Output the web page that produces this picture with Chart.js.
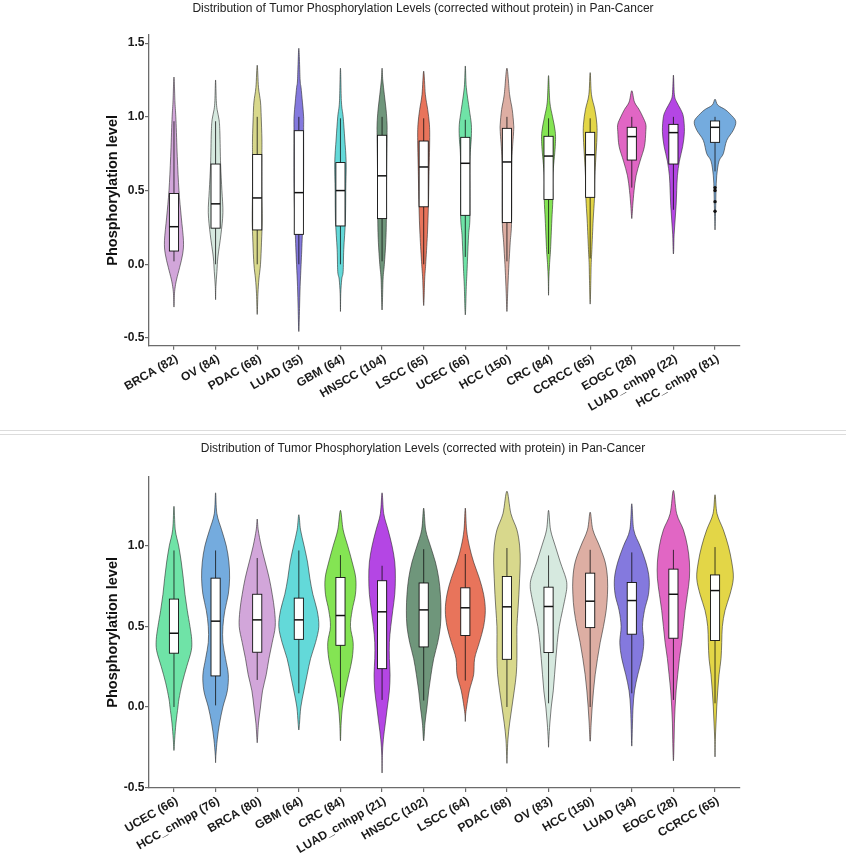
<!DOCTYPE html>
<html>
<head>
<meta charset="utf-8">
<script src="https://cdn.jsdelivr.net/npm/chart.js@4.4.1/dist/chart.umd.min.js"></script>
<style>
  html, body { margin: 0; padding: 0; background: #fff; }
  #top { height: 430px; border-bottom: 1px solid #dcdcdc; }
  #bot { margin-top: 3px; height: 420px; border-top: 1px solid #dcdcdc; }
  canvas { display: block; }
</style>
</head>
<body>
<div id="top"><canvas id="chartTop" width="846" height="430"></canvas></div>
<div id="bot"><canvas id="chartBot" width="846" height="420"></canvas></div>
<script>
// ---- top chart: corrected without protein ----
var labelsTop = ['BRCA (82)', 'OV (84)', 'PDAC (68)', 'LUAD (35)', 'GBM (64)', 'HNSCC (104)', 'LSCC (65)',
  'UCEC (66)', 'HCC (150)', 'CRC (84)', 'CCRCC (65)', 'EOGC (28)', 'LUAD_cnhpp (22)', 'HCC_cnhpp (81)'];
var colorsTop = ['#D2A6DA', '#D6E9DF', '#D8D88C', '#8479DE', '#63D9D9', '#6F967B', '#E8745B',
  '#6FE3A7', '#DDAEA3', '#84E453', '#E3D647', '#E166C4', '#B446E4', '#74ABDE'];
var q1Top  = [0.09, 0.245, 0.233, 0.203, 0.26, 0.31, 0.39, 0.332, 0.283, 0.44, 0.454, 0.707, 0.68, 0.827];
var medTop = [0.255, 0.41, 0.45, 0.486, 0.50, 0.60, 0.66, 0.685, 0.694, 0.734, 0.743, 0.866, 0.893, 0.929];
var q3Top  = [0.48, 0.68, 0.745, 0.906, 0.69, 0.875, 0.836, 0.861, 0.922, 0.868, 0.895, 0.929, 0.949, 0.972];
var loTop  = [0.02, 0.0, 0.0, 0.0, 0.0, 0.02, 0.0, 0.05, 0.02, 0.07, 0.04, 0.52, 0.37, 0.63];
var hiTop  = [0.97, 0.97, 1.0, 1.0, 0.99, 1.0, 0.99, 0.98, 1.0, 0.99, 0.99, 1.0, 1.0, 1.0];
var outliersTop = [[], [], [], [], [], [], [], [], [], [], [], [], [], [0.52, 0.50, 0.425, 0.36]];
// violin density: [level, density] pairs from lower tail to upper tail
var densityTop = [
  [[-0.29,0],[-0.2,0.5],[-0.15,1.3],[-0.1,2.7],[-0.02,5.7],[0.07,8.7],[0.16,9.5],[0.32,7.3],[0.5,5],[0.73,3.3],[0.98,2],[1.1,1],[1.27,0]],
  [[-0.24,0],[-0.15,0.3],[-0.05,1.3],[0.05,2.3],[0.2,5.3],[0.35,7.3],[0.5,6.3],[0.68,5],[0.89,4.3],[0.98,3.5],[1.05,1.5],[1.11,0.7],[1.25,0]],
  [[-0.34,0],[-0.2,0.7],[-0.1,1.7],[0.0,3.3],[0.15,4.3],[0.3,5],[0.5,4.7],[0.745,4.7],[0.85,4.7],[1.0,4],[1.1,3.3],[1.2,1.3],[1.35,0]],
  [[-0.456,0],[-0.3,0.7],[-0.15,1.3],[0.0,2.3],[0.2,3.5],[0.5,4.7],[0.9,4.8],[1.0,4.8],[1.1,3.6],[1.2,2.2],[1.25,1.3],[1.465,0]],
  [[-0.32,0],[-0.2,0.3],[-0.1,1.3],[-0.05,2.7],[0.1,3.3],[0.3,5],[0.5,5.3],[0.69,5.7],[0.85,4.3],[1.0,2.7],[1.1,1],[1.33,0]],
  [[-0.31,0],[-0.1,1],[0.0,2.3],[0.15,3.7],[0.3,4.3],[0.6,4.5],[0.875,5],[0.95,5],[1.05,4],[1.15,2.3],[1.25,0.7],[1.33,0]],
  [[-0.28,0],[-0.1,1],[0.0,2],[0.2,3.7],[0.39,4.7],[0.6,5.3],[0.84,6],[0.95,5.7],[1.05,4],[1.15,1.7],[1.31,0]],
  [[-0.343,0],[-0.15,1],[-0.05,1.7],[0.05,2.3],[0.2,3.3],[0.33,4.7],[0.7,4.7],[0.86,6],[0.95,6],[1.05,4],[1.2,1],[1.345,0]],
  [[-0.32,0],[-0.2,0.7],[-0.1,1.3],[0.0,2],[0.15,3.3],[0.3,4.7],[0.7,5],[0.9,6.7],[0.95,6.7],[1.05,5.3],[1.15,2.7],[1.33,0]],
  [[-0.21,0],[-0.1,0.3],[0.0,1],[0.1,2],[0.3,3.3],[0.44,4.3],[0.6,4.3],[0.8,6.7],[0.9,6.7],[1.0,4],[1.1,1.3],[1.28,0]],
  [[-0.27,0],[-0.1,0.7],[0.0,1],[0.1,1.7],[0.3,3],[0.45,4.3],[0.6,4.7],[0.85,6.7],[0.95,6.7],[1.05,4.7],[1.15,1.3],[1.30,0]],
  [[0.31,0],[0.33,0.3],[0.4,1],[0.5,2.3],[0.6,4.3],[0.7,8.3],[0.8,12.7],[0.9,14],[0.95,14],[1.0,11],[1.05,7.3],[1.1,2.7],[1.177,0]],
  [[0.07,0],[0.1,0.3],[0.2,0.7],[0.3,1.7],[0.4,2.7],[0.5,3.3],[0.6,4],[0.7,6],[0.8,9.3],[0.9,11],[1.0,10],[1.05,7.3],[1.1,3.3],[1.15,1],[1.283,0]],
  [[0.233,0],[0.3,0.3],[0.4,0.7],[0.5,1],[0.6,1.7],[0.7,4],[0.75,8.3],[0.84,11.7],[0.91,18.3],[0.97,20.7],[1.02,15],[1.05,10],[1.08,2.7],[1.12,0]]
];
var yTicksTop = [-0.5, 0.0, 0.5, 1.0, 1.5];

// ---- bottom chart: corrected with protein ----
var labelsBot = ['UCEC (66)', 'HCC_cnhpp (76)', 'BRCA (80)', 'GBM (64)', 'CRC (84)', 'LUAD_cnhpp (21)', 'HNSCC (102)',
  'LSCC (64)', 'PDAC (68)', 'OV (83)', 'HCC (150)', 'LUAD (34)', 'EOGC (28)', 'CCRCC (65)'];
var colorsBot = ['#6FE3A7', '#74ABDE', '#D2A6DA', '#63D9D9', '#84E453', '#B446E4', '#6F967B',
  '#E8745B', '#D8D88C', '#D6E9DF', '#DDAEA3', '#8479DE', '#E166C4', '#E3D647'];
var q1Bot  = [0.334, 0.193, 0.34, 0.42, 0.383, 0.238, 0.373, 0.444, 0.296, 0.338, 0.493, 0.452, 0.427, 0.413];
var medBot = [0.458, 0.533, 0.541, 0.541, 0.568, 0.591, 0.603, 0.616, 0.622, 0.624, 0.657, 0.661, 0.70, 0.723];
var q3Bot  = [0.67, 0.80, 0.70, 0.676, 0.804, 0.784, 0.77, 0.74, 0.81, 0.744, 0.831, 0.773, 0.856, 0.82];
var loBot  = [0.0, 0.01, 0.168, 0.085, 0.06, 0.044, 0.04, 0.164, 0.0, 0.023, 0.0, 0.085, 0.044, 0.023];
var hiBot  = [0.972, 0.972, 0.925, 0.972, 0.943, 0.877, 0.98, 0.95, 0.987, 0.941, 0.976, 0.96, 0.976, 0.993];
var outliersBot = [[], [], [], [], [], [], [], [], [], [], [], [], [], []];
var densityBot = [
  [[-0.27,0],[-0.2,0.7],[-0.1,2],[0.0,4],[0.05,5],[0.15,8.3],[0.25,12.7],[0.35,17.3],[0.42,17.7],[0.5,16],[0.6,13.3],[0.7,11],[0.8,9.3],[0.9,7.3],[1.0,4.7],[1.1,1.3],[1.246,0]],
  [[-0.346,0],[-0.3,0.3],[-0.2,1.7],[-0.1,4],[0.0,7.3],[0.1,11.7],[0.2,12.7],[0.3,10],[0.4,7.3],[0.5,7.3],[0.6,9.3],[0.7,12.7],[0.8,14],[0.9,13.3],[1.0,10.7],[1.1,6],[1.2,1.3],[1.33,0]],
  [[-0.222,0],[-0.2,0.3],[-0.1,1.3],[0.0,3.3],[0.1,5.3],[0.2,9],[0.3,11.7],[0.4,15],[0.5,18],[0.6,17.3],[0.7,15],[0.8,12],[0.9,8],[1.0,4],[1.1,1],[1.167,0]],
  [[-0.143,0],[-0.1,0.7],[0.0,2],[0.1,5],[0.2,8.3],[0.3,11.7],[0.4,16.7],[0.5,20],[0.6,18.3],[0.7,14],[0.8,11],[0.9,8.7],[1.0,5.3],[1.1,1.7],[1.194,0]],
  [[-0.21,0],[-0.1,0.7],[0.0,2],[0.1,4.7],[0.2,8.3],[0.3,11.7],[0.4,12.7],[0.5,10],[0.6,11.7],[0.7,15],[0.8,15.3],[0.9,11.7],[1.0,7.3],[1.1,2.7],[1.221,0]],
  [[-0.41,0],[-0.3,0.3],[-0.2,1.3],[-0.1,3.3],[0.0,5.3],[0.1,7.3],[0.2,8],[0.3,7.3],[0.4,7.3],[0.5,8.7],[0.6,10.7],[0.7,12.7],[0.8,13.3],[0.9,12.7],[1.0,10],[1.1,6],[1.2,1.7],[1.33,0]],
  [[-0.21,0],[-0.1,1.3],[0.0,3.3],[0.1,5],[0.2,7.3],[0.3,10],[0.4,14],[0.5,16.7],[0.6,17.3],[0.7,16.7],[0.8,15],[0.9,11.7],[1.0,6.7],[1.1,2],[1.235,0]],
  [[-0.09,0],[-0.05,0.3],[0.0,1.3],[0.1,4],[0.2,8.3],[0.3,9.3],[0.4,14],[0.5,18.3],[0.6,20],[0.7,18.3],[0.8,14],[0.9,8.3],[1.0,4],[1.1,1.3],[1.235,0]],
  [[-0.35,0],[-0.3,0.3],[-0.2,1],[-0.1,2.7],[0.0,5],[0.1,7.3],[0.2,9.3],[0.3,10],[0.4,10],[0.5,10],[0.6,11],[0.7,12],[0.8,12.7],[0.9,13.3],[1.0,12.7],[1.1,10],[1.2,4],[1.34,0]],
  [[-0.25,0],[-0.2,0.3],[-0.1,1.3],[0.0,2.7],[0.1,4.7],[0.2,6],[0.3,7.3],[0.4,8.7],[0.5,10.7],[0.6,14],[0.7,17.3],[0.75,18.3],[0.8,17.3],[0.9,11.7],[1.0,6.7],[1.1,2],[1.221,0]],
  [[-0.21,0],[-0.2,0.3],[-0.1,1],[0.0,2],[0.1,3.3],[0.2,5],[0.3,7.3],[0.4,10],[0.5,13.3],[0.6,16],[0.7,17.3],[0.8,17.3],[0.9,15],[1.0,9.3],[1.1,2.7],[1.21,0]],
  [[-0.243,0],[-0.1,0.7],[0.0,1.3],[0.1,2.7],[0.2,6],[0.3,10],[0.4,12],[0.5,10.7],[0.6,12.7],[0.7,16.7],[0.8,17.3],[0.9,14],[1.0,8.3],[1.1,2],[1.262,0]],
  [[-0.334,0],[-0.3,0.3],[-0.2,0.7],[-0.1,1],[0.0,1.7],[0.1,2.7],[0.2,4.3],[0.3,6],[0.4,8.3],[0.5,10],[0.6,11.7],[0.7,14],[0.8,16],[0.9,16],[1.0,14],[1.1,10],[1.2,3.3],[1.345,0]],
  [[-0.31,0],[-0.2,0.3],[-0.1,1],[0.0,1.7],[0.1,2.7],[0.2,4],[0.3,6],[0.4,6.7],[0.5,7.3],[0.6,10],[0.7,15],[0.8,18.3],[0.9,16.7],[1.0,13.3],[1.1,8.3],[1.2,2],[1.318,0]]
];
var yTicksBot = [-0.5, 0.0, 0.5, 1.0];

// density units -> fraction of one category on the x scale
var DENSITY_UNIT = 1 / 41.6;
var BOX_HALF = 0.11;

Chart.defaults.font.family = "'Liberation Sans', Arial, sans-serif";
Chart.defaults.color = '#1a1a1a';

// closed Catmull-Rom outline through the violin knots
function closedSpline(ctx, P) {
  var n = P.length;
  ctx.moveTo(P[0][0], P[0][1]);
  for (var j = 0; j < n; j++) {
    var p0 = P[(j - 1 + n) % n], p1 = P[j], p2 = P[(j + 1) % n], p3 = P[(j + 2) % n];
    ctx.bezierCurveTo(
      p1[0] + (p2[0] - p0[0]) / 6, p1[1] + (p2[1] - p0[1]) / 6,
      p2[0] - (p3[0] - p1[0]) / 6, p2[1] - (p3[1] - p1[1]) / 6,
      p2[0], p2[1]);
  }
}

function violinLayer(set) {
  return {
    id: 'violinLayer',
    beforeDatasetsDraw: function(chart) {
      var ctx = chart.ctx, xs = chart.scales.x, ys = chart.scales.y;
      ctx.save();
      set.labels.forEach(function(lab, i) {
        var dens = set.density[i];
        var right = dens.map(function(p) { return [xs.getPixelForValue(i + p[1] * DENSITY_UNIT), ys.getPixelForValue(p[0])]; });
        var left = dens.slice().reverse().map(function(p) { return [xs.getPixelForValue(i - p[1] * DENSITY_UNIT), ys.getPixelForValue(p[0])]; });
        var ring = right.concat(left.slice(1, -1));
        ctx.beginPath();
        closedSpline(ctx, ring);
        ctx.closePath();
        ctx.fillStyle = set.colors[i];
        ctx.fill();
        ctx.lineWidth = 0.6;
        ctx.strokeStyle = '#2a2a2a';
        ctx.stroke();

        var cx = xs.getPixelForValue(i);
        // whiskers
        ctx.beginPath();
        ctx.moveTo(cx, ys.getPixelForValue(set.lo[i]));
        ctx.lineTo(cx, ys.getPixelForValue(set.q1[i]));
        ctx.moveTo(cx, ys.getPixelForValue(set.q3[i]));
        ctx.lineTo(cx, ys.getPixelForValue(set.hi[i]));
        ctx.lineWidth = 0.8;
        ctx.strokeStyle = '#111';
        ctx.stroke();
        // box
        var bl = xs.getPixelForValue(i - BOX_HALF), br = xs.getPixelForValue(i + BOX_HALF);
        var bt = ys.getPixelForValue(set.q3[i]), bb = ys.getPixelForValue(set.q1[i]);
        ctx.fillStyle = '#fff';
        ctx.fillRect(bl, bt, br - bl, bb - bt);
        ctx.lineWidth = 0.9;
        ctx.strokeStyle = '#111';
        ctx.strokeRect(bl, bt, br - bl, bb - bt);
        // median
        var my = ys.getPixelForValue(set.med[i]);
        ctx.beginPath();
        ctx.moveTo(bl, my);
        ctx.lineTo(br, my);
        ctx.lineWidth = 1.5;
        ctx.stroke();
      });
      ctx.restore();
    }
  };
}

function buildChart(canvasId, set, layout) {
  var outlierPts = [];
  set.outliers.forEach(function(list, i) {
    list.forEach(function(v) { outlierPts.push({ x: i, y: v }); });
  });
  var axisColor = '#6b6b6b';
  var tickFont = { size: 12, weight: 'bold' };
  return new Chart(document.getElementById(canvasId), {
    type: 'scatter',
    data: {
      datasets: [{
        label: 'outliers',
        data: outlierPts,
        pointRadius: 1.7,
        pointBackgroundColor: '#111',
        pointBorderWidth: 0
      }]
    },
    plugins: [violinLayer(set)],
    options: {
      responsive: false,
      animation: false,
      events: [],
      layout: { padding: 0 },
      plugins: {
        legend: { display: false },
        tooltip: { enabled: false },
        title: {
          display: true,
          text: set.title,
          color: '#222',
          font: { size: 12, weight: 'normal' },
          padding: layout.titlePad
        }
      },
      scales: {
        x: {
          type: 'linear',
          min: -0.6,
          max: set.labels.length - 0.4,
          afterBuildTicks: function(s) { s.ticks = set.labels.map(function(_, i) { return { value: i }; }); },
          afterFit: function(s) { s.height = layout.xHeight; },
          ticks: {
            autoSkip: false,
            minRotation: 30,
            maxRotation: 30,
            labelOffset: 3,
            padding: 2,
            font: tickFont,
            color: '#1a1a1a',
            callback: function(v) { return set.labels[v]; }
          },
          grid: { display: true, drawOnChartArea: false, drawTicks: true, tickLength: 4, color: axisColor, lineWidth: 1.2 },
          border: { display: true, color: axisColor, width: 1.3 }
        },
        y: {
          type: 'linear',
          min: layout.yMin,
          max: layout.yMax,
          afterBuildTicks: function(s) { s.ticks = set.yTicks.map(function(v) { return { value: v }; }); },
          afterFit: function(s) { s.width = 149; },
          ticks: {
            padding: 0.5,
            font: tickFont,
            color: '#1a1a1a',
            callback: function(v) { return v.toFixed(1); }
          },
          grid: { display: true, drawOnChartArea: false, drawTicks: true, tickLength: 4, color: axisColor, lineWidth: 1.2 },
          border: { display: true, color: axisColor, width: 1.3 },
          title: {
            display: true,
            text: 'Phosphorylation level',
            color: '#111',
            font: { size: 14.5, weight: 'bold' },
            padding: { top: 103.8, bottom: 0 }
          }
        },
        y2: {
          position: 'right',
          display: true,
          grid: { display: false },
          border: { display: false },
          ticks: { display: false },
          afterFit: function(s) { s.width = 106; }
        }
      }
    }
  });
}

buildChart('chartTop', {
  title: 'Distribution of Tumor Phosphorylation Levels (corrected without protein) in Pan-Cancer',
  labels: labelsTop, colors: colorsTop,
  q1: q1Top, med: medTop, q3: q3Top, lo: loTop, hi: hiTop,
  density: densityTop, outliers: outliersTop, yTicks: yTicksTop
}, { yMin: -0.552, yMax: 1.555, xHeight: 84.3, titlePad: { top: 1, bottom: 19.6 } });

buildChart('chartBot', {
  title: 'Distribution of Tumor Phosphorylation Levels (corrected with protein) in Pan-Cancer',
  labels: labelsBot, colors: colorsBot,
  q1: q1Bot, med: medBot, q3: q3Bot, lo: loBot, hi: hiBot,
  density: densityBot, outliers: outliersBot, yTicks: yTicksBot
}, { yMin: -0.503, yMax: 1.430, xHeight: 67, titlePad: { top: 6.8, bottom: 20.5 } });
</script>
</body>
</html>
